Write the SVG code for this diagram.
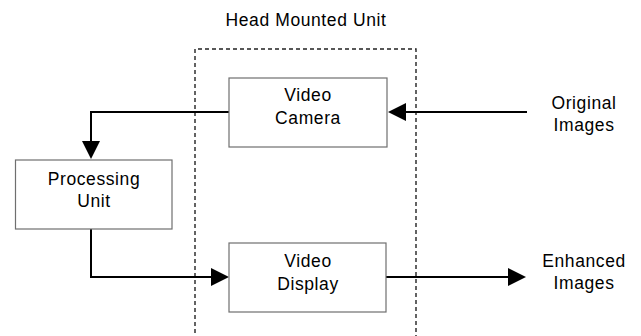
<svg xmlns="http://www.w3.org/2000/svg" width="641" height="336" viewBox="0 0 641 336">
<style>
.box{fill:#fff;stroke:#6f6f6f;stroke-width:1.2}
.t{font-family:"Liberation Sans",Arial,sans-serif;font-size:17.5px;letter-spacing:0.6px;fill:#000;text-anchor:middle}
.c{fill:none;stroke:#000;stroke-width:2}
.dash{fill:none;stroke:#222;stroke-width:1.4;stroke-dasharray:4 3}
</style>
<defs>
<marker id="ah" markerUnits="userSpaceOnUse" markerWidth="18" markerHeight="18" refX="16" refY="9" orient="auto">
<path d="M0,0 L18,9 L0,18 z" fill="#000"/>
</marker>
</defs>
<rect width="641" height="336" fill="#fff"/>
<g id="head-mounted-unit">
<path class="dash" d="M195,340 V49 H416 V340"/>
<text class="t" x="306" y="26">Head Mounted Unit</text>
</g>
<g id="connectors">
<path class="c" d="M229,112 H91 V157" marker-end="url(#ah)"/>
<path class="c" d="M91,229 V277 H227" marker-end="url(#ah)"/>
<path class="c" d="M527,112 H390" marker-end="url(#ah)"/>
<path class="c" d="M386,277 H524" marker-end="url(#ah)"/>
</g>
<g id="video-camera">
<rect class="box" x="229" y="78" width="158" height="69"/>
<text class="t" x="308" y="101">Video</text>
<text class="t" x="308" y="124">Camera</text>
</g>
<g id="processing-unit">
<rect class="box" x="15.5" y="160" width="156.5" height="69"/>
<text class="t" x="94" y="184.5">Processing</text>
<text class="t" x="94" y="207">Unit</text>
</g>
<g id="video-display">
<rect class="box" x="229" y="243" width="157" height="69"/>
<text class="t" x="308" y="267">Video</text>
<text class="t" x="308" y="290">Display</text>
</g>
<g id="original-images">
<text class="t" x="584" y="109">Original</text>
<text class="t" x="584" y="131">Images</text>
</g>
<g id="enhanced-images">
<text class="t" x="584" y="267">Enhanced</text>
<text class="t" x="584" y="289">Images</text>
</g>
</svg>
